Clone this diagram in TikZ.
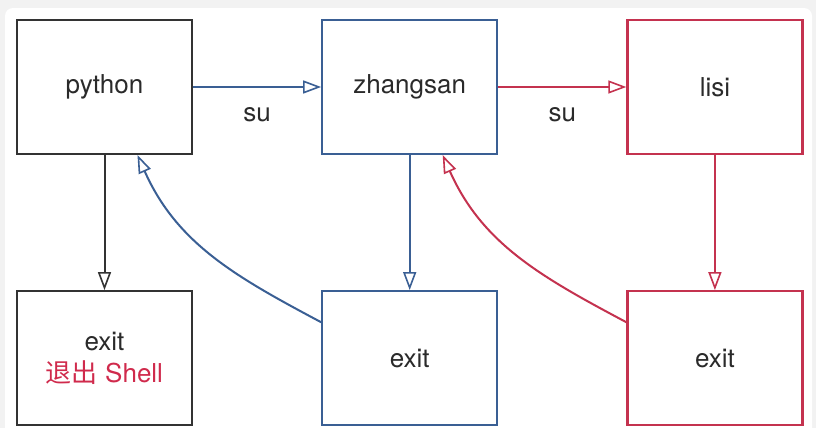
\documentclass[tikz,border=0pt]{standalone}
\usepackage{fontspec}
\setmainfont{TeX Gyre Heros}
\newfontfamily\cjkfont{Noto Sans CJK SC}
\usetikzlibrary{arrows.meta,positioning}
\definecolor{boxblack}{HTML}{333333}
\definecolor{boxblue}{HTML}{3A5F94}
\definecolor{boxred}{HTML}{C4324F}
\definecolor{txtred}{HTML}{D02A4C}
\definecolor{txtgray}{HTML}{2A2A2A}
\definecolor{pagegray}{HTML}{F2F2F2}
\tikzset{
    %Define standard arrow tip
    >={Triangle[open,length=18pt,width=13pt,line width=1.6pt]},
    %Define style for boxes
    userbox/.style={
           rectangle,
           draw=boxblack, line width=2.2pt,
           minimum width=175pt,
           minimum height=134pt,
           inner sep=0pt,
           text=txtgray,
           font=\fontsize{26}{32}\selectfont,
           align=center},
    % Define arrow style
    pil/.style={
           ->,
           line width=2pt},
    sulabel/.style={
           text=txtgray,
           font=\fontsize{26}{32}\selectfont}
}
\begin{document}
\begin{tikzpicture}[node distance=135pt and 128pt]
\fill[pagegray] (0,0) rectangle (816pt,-428pt);
\fill[white, rounded corners=8pt] (5pt,-8pt) rectangle (812pt,-440pt);
\useasboundingbox (0,0) rectangle (816pt,-428pt);
 %nodes
\node[userbox](python) at (104.5pt,-87pt){python};
\node[userbox, draw=boxblue, right=of python](zhangsan){zhangsan};
\node[userbox, draw=boxred, right=of zhangsan](lisi){lisi};
\node[userbox, below=of python](exit1){exit\\[0pt]{\color{txtred}{\cjkfont 退出} Shell}};
\node[userbox, draw=boxblue, below=of zhangsan](exit2){exit};
\node[userbox, draw=boxred, below=of lisi](exit3){exit};
 %su
\draw[pil, boxblue] (python) -- node[sulabel, below=16pt]{su} (zhangsan);
\draw[pil, boxred] (zhangsan) -- node[sulabel, below=16pt]{su} (lisi);
 %down
\draw[pil, boxblack] (python) -- (exit1);
\draw[pil, boxblue] (zhangsan) -- (exit2);
\draw[pil, boxred] (lisi) -- (exit3);
 %back
\draw[pil, boxblue] ([yshift=36pt]exit2.west) to[out=152, in=-66] ([xshift=33pt]python.south);
\draw[pil, boxred] ([yshift=36pt]exit3.west) to[out=152, in=-66] ([xshift=33pt]zhangsan.south);
\end{tikzpicture}
\end{document}
